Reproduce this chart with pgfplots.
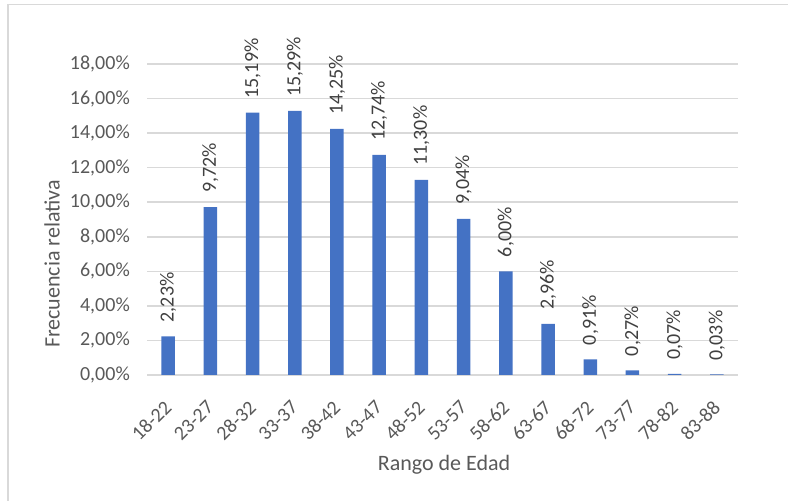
\documentclass[border=0pt]{standalone}
\usepackage{pgfplots}
\usepackage{pgfplotstable}
\pgfplotsset{compat=1.18}
\usepackage{fontspec}
\setmainfont{Carlito}

\definecolor{barblue}{HTML}{4472C4}
\definecolor{gridgray}{HTML}{D9D9D9}
\definecolor{labelgray}{HTML}{595959}
\definecolor{datagray}{HTML}{404040}

% Relative frequency (%) per age range
\pgfplotstableread{
x y
0 2.23
1 9.72
2 15.19
3 15.29
4 14.25
5 12.74
6 11.30
7 9.04
8 6.00
9 2.96
10 0.91
11 0.27
12 0.07
13 0.03
}\agedata

\newcommand{\tickfont}{\fontsize{20bp}{24bp}\selectfont}
\newcommand{\titlefont}{\fontsize{22bp}{26bp}\selectfont}

\begin{document}
\begin{tikzpicture}
\begin{axis}[
  at={(147bp,126bp)}, anchor=south west,
  scale only axis, width=591bp, height=311bp,
  xmin=-0.5, xmax=13.5, ymin=0, ymax=18,
  clip=false,
  xtick=data,
  xticklabels={18-22,23-27,28-32,33-37,38-42,43-47,48-52,53-57,58-62,63-67,68-72,73-77,78-82,83-88},
  ytick={0,2,4,6,8,10,12,14,16,18},
  ymajorgrids,
  grid style={gridgray, line width=1.5bp},
  axis line style={draw=none},
  major tick style={draw=none},
  /pgf/number format/assume math mode=true,
  yticklabel={\pgfmathprintnumber[fixed,fixed zerofill,precision=2,use comma]{\tick}\%},
  yticklabel style={font=\tickfont, text=labelgray, anchor=east, inner sep=0pt, xshift=-17bp},
  xticklabel style={font=\tickfont, text=labelgray, yshift=-29bp, rotate=45, anchor=east, inner sep=0pt},
]
\addplot[ybar, bar width=13.5bp, fill=barblue, draw=none,
  nodes near coords={\pgfmathprintnumber[fixed,fixed zerofill,precision=2,use comma]{\pgfplotspointmeta}\%},
  nodes near coords style={font=\tickfont, text=datagray, rotate=90, anchor=west, inner xsep=14bp, inner ysep=0pt},
] table[x=x, y=y] {\agedata};
\end{axis}

% axis titles
\node[rotate=90, text=labelgray, font=\titlefont] at (52bp,237bp) {Frecuencia relativa};
\node[text=labelgray, font=\titlefont] at (444bp,36bp) {Rango de Edad};

% chart frame
\draw[gridgray, line width=1.5bp] (8bp,0) -- (8bp,496.5bp) -- (788bp,496.5bp);

\pgfresetboundingbox
\useasboundingbox (0,0) rectangle (788bp,501bp);
\end{tikzpicture}
\end{document}
